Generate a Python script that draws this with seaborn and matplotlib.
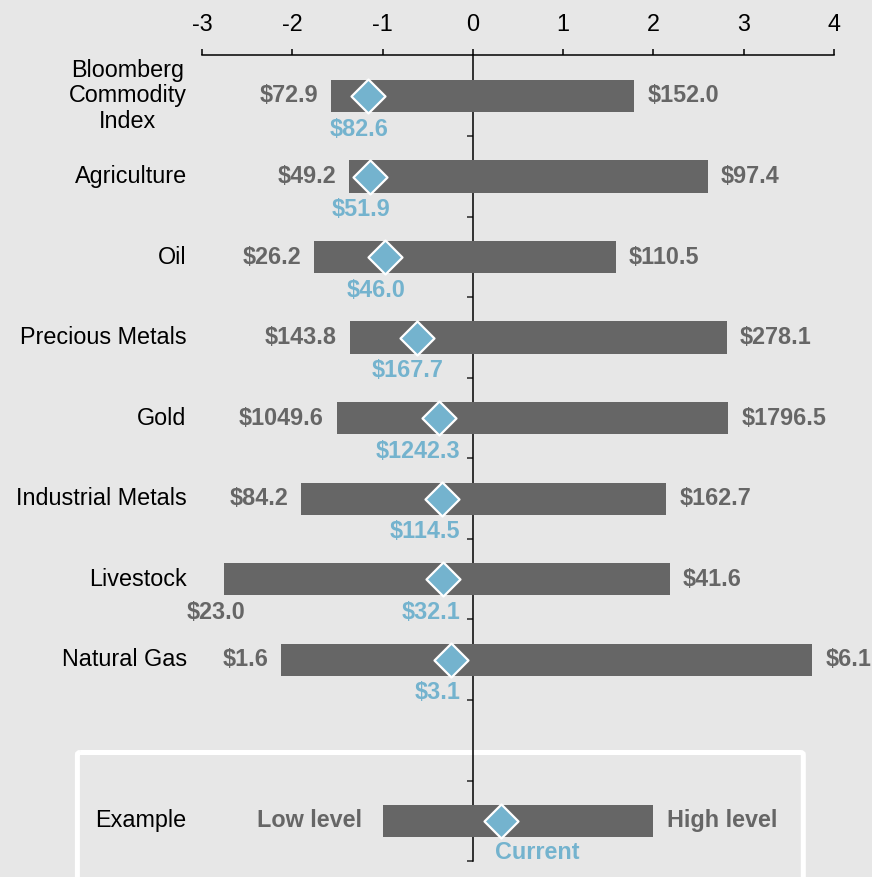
import numpy as np
import pandas as pd
import matplotlib.pyplot as plt
import matplotlib.patches as mpatches
import seaborn as sns

# ------------------------------
# data (z-scores, price labels as printed)
# ------------------------------
categories = ["Bloomberg\nCommodity\nIndex", "Agriculture", "Oil", "Precious Metals",
              "Gold", "Industrial Metals", "Livestock", "Natural Gas"]
low_z = [-1.57, -1.37, -1.76, -1.36, -1.51, -1.90, -2.76, -2.12]
high_z = [1.79, 2.60, 1.58, 2.81, 2.83, 2.14, 2.18, 3.76]
current_z = [-1.16, -1.14, -0.97, -0.62, -0.38, -0.34, -0.33, -0.24]
low_text = ["$72.9", "$49.2", "$26.2", "$143.8", "$1049.6", "$84.2", "$23.0", "$1.6"]
high_text = ["$152.0", "$97.4", "$110.5", "$278.1", "$1796.5", "$162.7", "$41.6", "$6.1"]
current_text = ["$82.6", "$51.9", "$46.0", "$167.7", "$1242.3", "$114.5", "$32.1", "$3.1"]

example_label = "Example"
example_low, example_high, example_current = -1.0, 2.0, 0.31
example_text = ["Low level", "High level", "Current"]

xticks = [-3, -2, -1, 0, 1, 2, 3, 4]

# ------------------------------
# styling
# ------------------------------
BG = "#e7e7e7"
BAR = "#666666"
BLUE = "#74b3ce"
FS = 16.8

sns.set_theme(style="white")
plt.rcParams["font.family"] = ["Liberation Sans", "DejaVu Sans"]

rows = list(range(len(categories)))
ex_row = len(categories) + 1
df = pd.DataFrame({
    "row": rows + [ex_row],
    "low": low_z + [example_low],
    "high": high_z + [example_high],
    "current": current_z + [example_current],
})

fig = plt.figure(figsize=(8.72, 8.77), dpi=100)
fig.patch.set_facecolor(BG)
ax = fig.add_axes([202 / 872, 0, 632 / 872, 1 - 55 / 877])
ax.set_facecolor(BG)

# floating bars: one bar from 0 to high, one from low to 0
for col in ["high", "low"]:
    sns.barplot(data=df, x=col, y="row", orient="y", native_scale=True, width=0.40,
                color=BAR, saturation=1, errorbar=None, ax=ax, zorder=3, linewidth=0)

sns.scatterplot(data=df, x="current", y="row", marker="D", s=300, color=BLUE,
                edgecolor="white", linewidth=1.6, zorder=4, ax=ax, legend=False)

ax.set_xlim(-3, 4)
ax.set_ylim(9.698, -0.509)
ax.set_xlabel("")
ax.set_ylabel("")

# top axis
ax.xaxis.tick_top()
ax.set_xticks(xticks)
ax.set_xticklabels([str(t) for t in xticks])
ax.tick_params(axis="x", direction="out", length=4.5, width=1.1, pad=9,
               labelsize=FS, colors="black", top=True, bottom=False)

# vertical axis at zero
ax.set_yticks([r + 0.5 for r in range(ex_row + 1)])
ax.set_yticklabels([])
ax.tick_params(axis="y", direction="out", length=4.5, width=1.1, left=True)
ax.spines["left"].set_position(("data", 0))
ax.spines["left"].set_bounds(-0.509, ex_row + 0.5)
for side in ["left", "top"]:
    ax.spines[side].set_color("black")
    ax.spines[side].set_linewidth(1.1)
for side in ["right", "bottom"]:
    ax.spines[side].set_visible(False)
ax.grid(False)

gap = 0.145
below = 0.41
renderer = fig.canvas.get_renderer()
to_data = ax.transData.inverted()

for i, r in enumerate(rows):
    ax.text(-3.17, r, categories[i], ha="right", va="center", fontsize=FS,
            color="black", multialignment="center", linespacing=1.15, clip_on=False)
    if low_z[i] < -2.5:
        # no room on the left, put the low price under the bar
        ax.text(low_z[i] - 0.08, r + below, low_text[i], ha="center", va="center",
                fontsize=FS, fontweight="bold", color=BAR, clip_on=False)
    else:
        ax.text(low_z[i] - gap, r, low_text[i], ha="right", va="center",
                fontsize=FS, fontweight="bold", color=BAR)
    ax.text(high_z[i] + gap, r, high_text[i], ha="left", va="center",
            fontsize=FS, fontweight="bold", color=BAR, clip_on=False)
    t = ax.text(current_z[i] - 0.1, r + below, current_text[i], ha="center",
                va="center", fontsize=FS, fontweight="bold", color=BLUE)
    # keep the current label clear of the zero line
    x1 = to_data.transform(t.get_window_extent(renderer).corners()[-1])[0]
    if x1 > -0.14:
        t.set_ha("right")
        t.set_x(-0.14)

# example row
ax.text(-3.17, ex_row, example_label, ha="right", va="center",
        fontsize=FS, color="black", clip_on=False)
ax.text(example_low - 0.23, ex_row, example_text[0], ha="right", va="center",
        fontsize=FS, fontweight="bold", color=BAR)
ax.text(example_high + gap, ex_row, example_text[1], ha="left", va="center",
        fontsize=FS, fontweight="bold", color=BAR)
ax.text(example_current - 0.06, ex_row + 0.39, example_text[2], ha="left", va="center",
        fontsize=FS, fontweight="bold", color=BLUE, clip_on=False)

box = mpatches.FancyBboxPatch((-4.38, 8.152), 8.04, 2.5, boxstyle="round,pad=0,rounding_size=0.03",
                              fill=False, edgecolor="white", linewidth=3.6,
                              clip_on=False, zorder=1, mutation_aspect=0.9)
ax.add_patch(box)

fig.savefig("out.png", dpi=100, facecolor=BG)
